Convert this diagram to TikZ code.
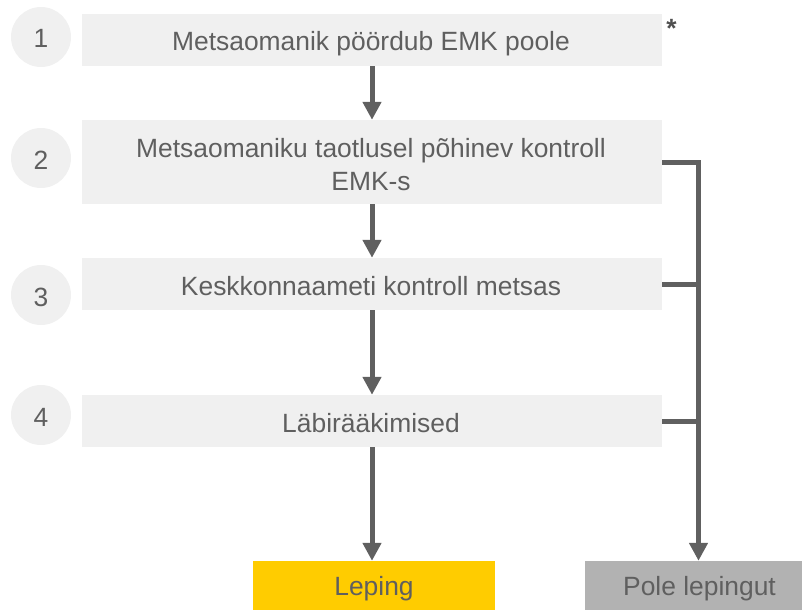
\documentclass[tikz,border=0pt]{standalone}
\usepackage{fontspec}
\setmainfont{Liberation Sans}
\usetikzlibrary{arrows.meta}
\definecolor{boxgray}{HTML}{F0F0F0}
\definecolor{txtgray}{HTML}{5F5F5F}
\definecolor{linegray}{HTML}{606060}
\definecolor{stargray}{HTML}{505050}
\definecolor{lepyellow}{HTML}{FFCC00}
\definecolor{polegray}{HTML}{B2B2B2}
\begin{document}
\begin{tikzpicture}[x=1pt,y=-1pt,
  every node/.style={font=\fontsize{26.4}{33}\selectfont, text=txtgray, inner sep=0pt},
  captext/.style={text height=19pt, text depth=0pt},
  stepbox/.style={fill=boxgray, minimum width=580pt, align=center},
  numcirc/.style={circle, fill=boxgray, minimum size=60pt},
  endbox/.style={captext, minimum height=49pt},
  conn/.style={draw=linegray, line width=5pt},
  arr/.style={conn, -{Triangle[width=18pt,length=18pt]}}
]
\useasboundingbox (0,0) rectangle (802,610);
\clip (0,0) rectangle (802,610);
% numbered circles
\node[numcirc] (c1) at (41,37) {};
\node[numcirc] (c2) at (41,158) {};
\node[numcirc] (c3) at (41,295) {};
\node[numcirc] (c4) at (41,415) {};
\node[captext] (n1) at (41,38.5) {1};
\node[captext] (n2) at (41,159.5) {2};
\node[captext] (n3) at (41,296.5) {3};
\node[captext] (n4) at (41,416.5) {4};
% step boxes
\node[stepbox, minimum height=52pt] (b1) at (372,40) {};
\node[captext] (t1) at (371,41.5) {Metsaomanik pöördub EMK poole};
\node[stepbox, minimum height=84pt] (b2) at (372,162) {};
\node[captext] (t2a) at (371,147.5) {Metsaomaniku taotlusel põhinev kontroll};
\node[captext] (t2b) at (371,181) {EMK-s};
\node[stepbox, minimum height=52pt] (b3) at (372,284) {};
\node[captext] (t3) at (371,285.5) {Keskkonnaameti kontroll metsas};
\node[stepbox, minimum height=52pt] (b4) at (372,421) {};
\node[captext] (t4) at (371,422.5) {Läbirääkimised};
\node[text=stargray, font=\fontsize{26.4}{30}\bfseries] (star) at (671.5,28) {*};
% end boxes
\node[endbox, fill=lepyellow, minimum width=242pt] (lep) at (374,585.5) {Leping};
\node[endbox, fill=polegray, minimum width=229pt] (pole) at (699.5,585.5) {Pole lepingut};
% vertical arrows
\draw[arr] (b1.south) -- (b2.north);
\draw[arr] (b2.south) -- (b3.north);
\draw[arr] (b3.south) -- (b4.north);
\draw[arr] (b4.south) -- (b4.south |- lep.north);
% bracket to "Pole lepingut"
\coordinate (j1) at (698.5,162);
\draw[conn] (b2.east) -- ([xshift=2.5pt]j1);
\draw[conn] (b3.east) -- (b3.east -| j1);
\draw[conn] (b4.east) -- (b4.east -| j1);
\draw[arr] ([yshift=-2.5pt]j1) -- (j1 |- pole.north);
\end{tikzpicture}
\end{document}
